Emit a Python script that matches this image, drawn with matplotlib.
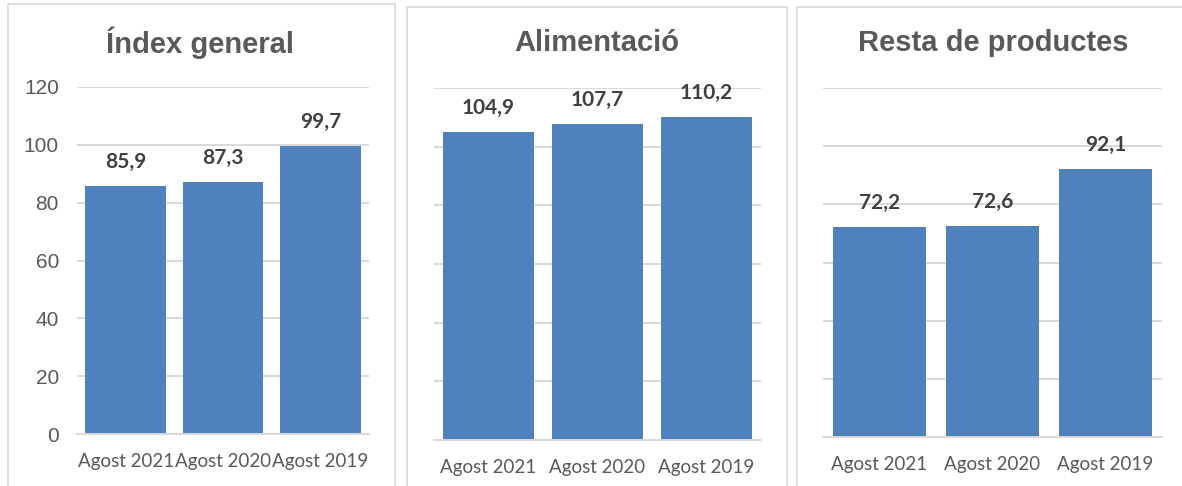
import matplotlib.pyplot as plt
from matplotlib.patches import Rectangle

# Data
categories = ["Agost 2021", "Agost 2020", "Agost 2019"]
titles = ["Índex general", "Alimentació", "Resta de productes"]
index_general = [85.9, 87.3, 99.7]
alimentacio = [104.9, 107.7, 110.2]
resta_productes = [72.2, 72.6, 92.1]
y_ticks = [0, 20, 40, 60, 80, 100, 120]

W, H = 1182, 486
fig = plt.figure(figsize=(W / 100, H / 100), dpi=100)

bar_color = "#4f81bd"
grid_color = "#d9d9d9"
text_grey = "#595959"


def px(x0, y_top, x1, y_bot):
    # pixel box -> figure fraction [left, bottom, width, height]
    return [x0 / W, 1 - y_bot / H, (x1 - x0) / W, (y_bot - y_top) / H]


# panel frames
frames = [(8, 4, 395, 500), (407, 7, 787, 500), (797, 7, 1200, 500)]
for x0, yt, x1, yb in frames:
    l, b, w, h = px(x0, yt, x1, yb)
    fig.patches.append(Rectangle((l, b), w, h, transform=fig.transFigure,
                                 fill=False, edgecolor=grid_color, lw=1.2))

axes_boxes = [px(77, 87, 369, 434), px(434, 88, 761, 440), px(823, 88, 1162, 437)]
title_x = [200, 597, 993]
series = [index_general, alimentacio, resta_productes]

for i, (box, vals, title) in enumerate(zip(axes_boxes, series, titles)):
    ax = fig.add_axes(box)
    x = range(len(categories))
    bars = ax.bar(x, vals, width=0.83, color=bar_color, zorder=2)
    ax.set_xlim(-0.5, 2.5)
    ax.set_ylim(0, 120)
    ax.set_yticks(y_ticks)
    ax.grid(axis="y", color=grid_color, lw=1.4, zorder=0)
    ax.set_axisbelow(True)
    for s in ["top", "right", "left"]:
        ax.spines[s].set_visible(False)
    ax.spines["bottom"].set_color(grid_color)
    ax.spines["bottom"].set_linewidth(1.4)
    ax.set_xticks(list(x))
    ax.set_xticklabels(categories, fontsize=13.5, color=text_grey, family="Lato")
    ax.tick_params(axis="x", length=0, pad=14)
    if i == 0:
        ax.tick_params(axis="y", length=0, pad=13, labelsize=15, labelcolor=text_grey)
        for t in ax.get_yticklabels():
            t.set_family("Liberation Sans")
    else:
        ax.tick_params(axis="y", length=0, labelleft=False)
    for b, v in zip(bars, vals):
        ax.annotate(f"{v:.1f}".replace(".", ","),
                    (b.get_x() + b.get_width() / 2, v),
                    xytext=(0, 10), textcoords="offset points",
                    ha="center", va="bottom", fontsize=15, fontweight="bold",
                    color="#404040", family="Lato")
    fig.text(title_x[i] / W, 1 - 43 / H, title, ha="center", va="center",
             fontsize=21, fontweight="bold", color=text_grey, family="Liberation Sans")

fig.savefig("out.png", dpi=100)
